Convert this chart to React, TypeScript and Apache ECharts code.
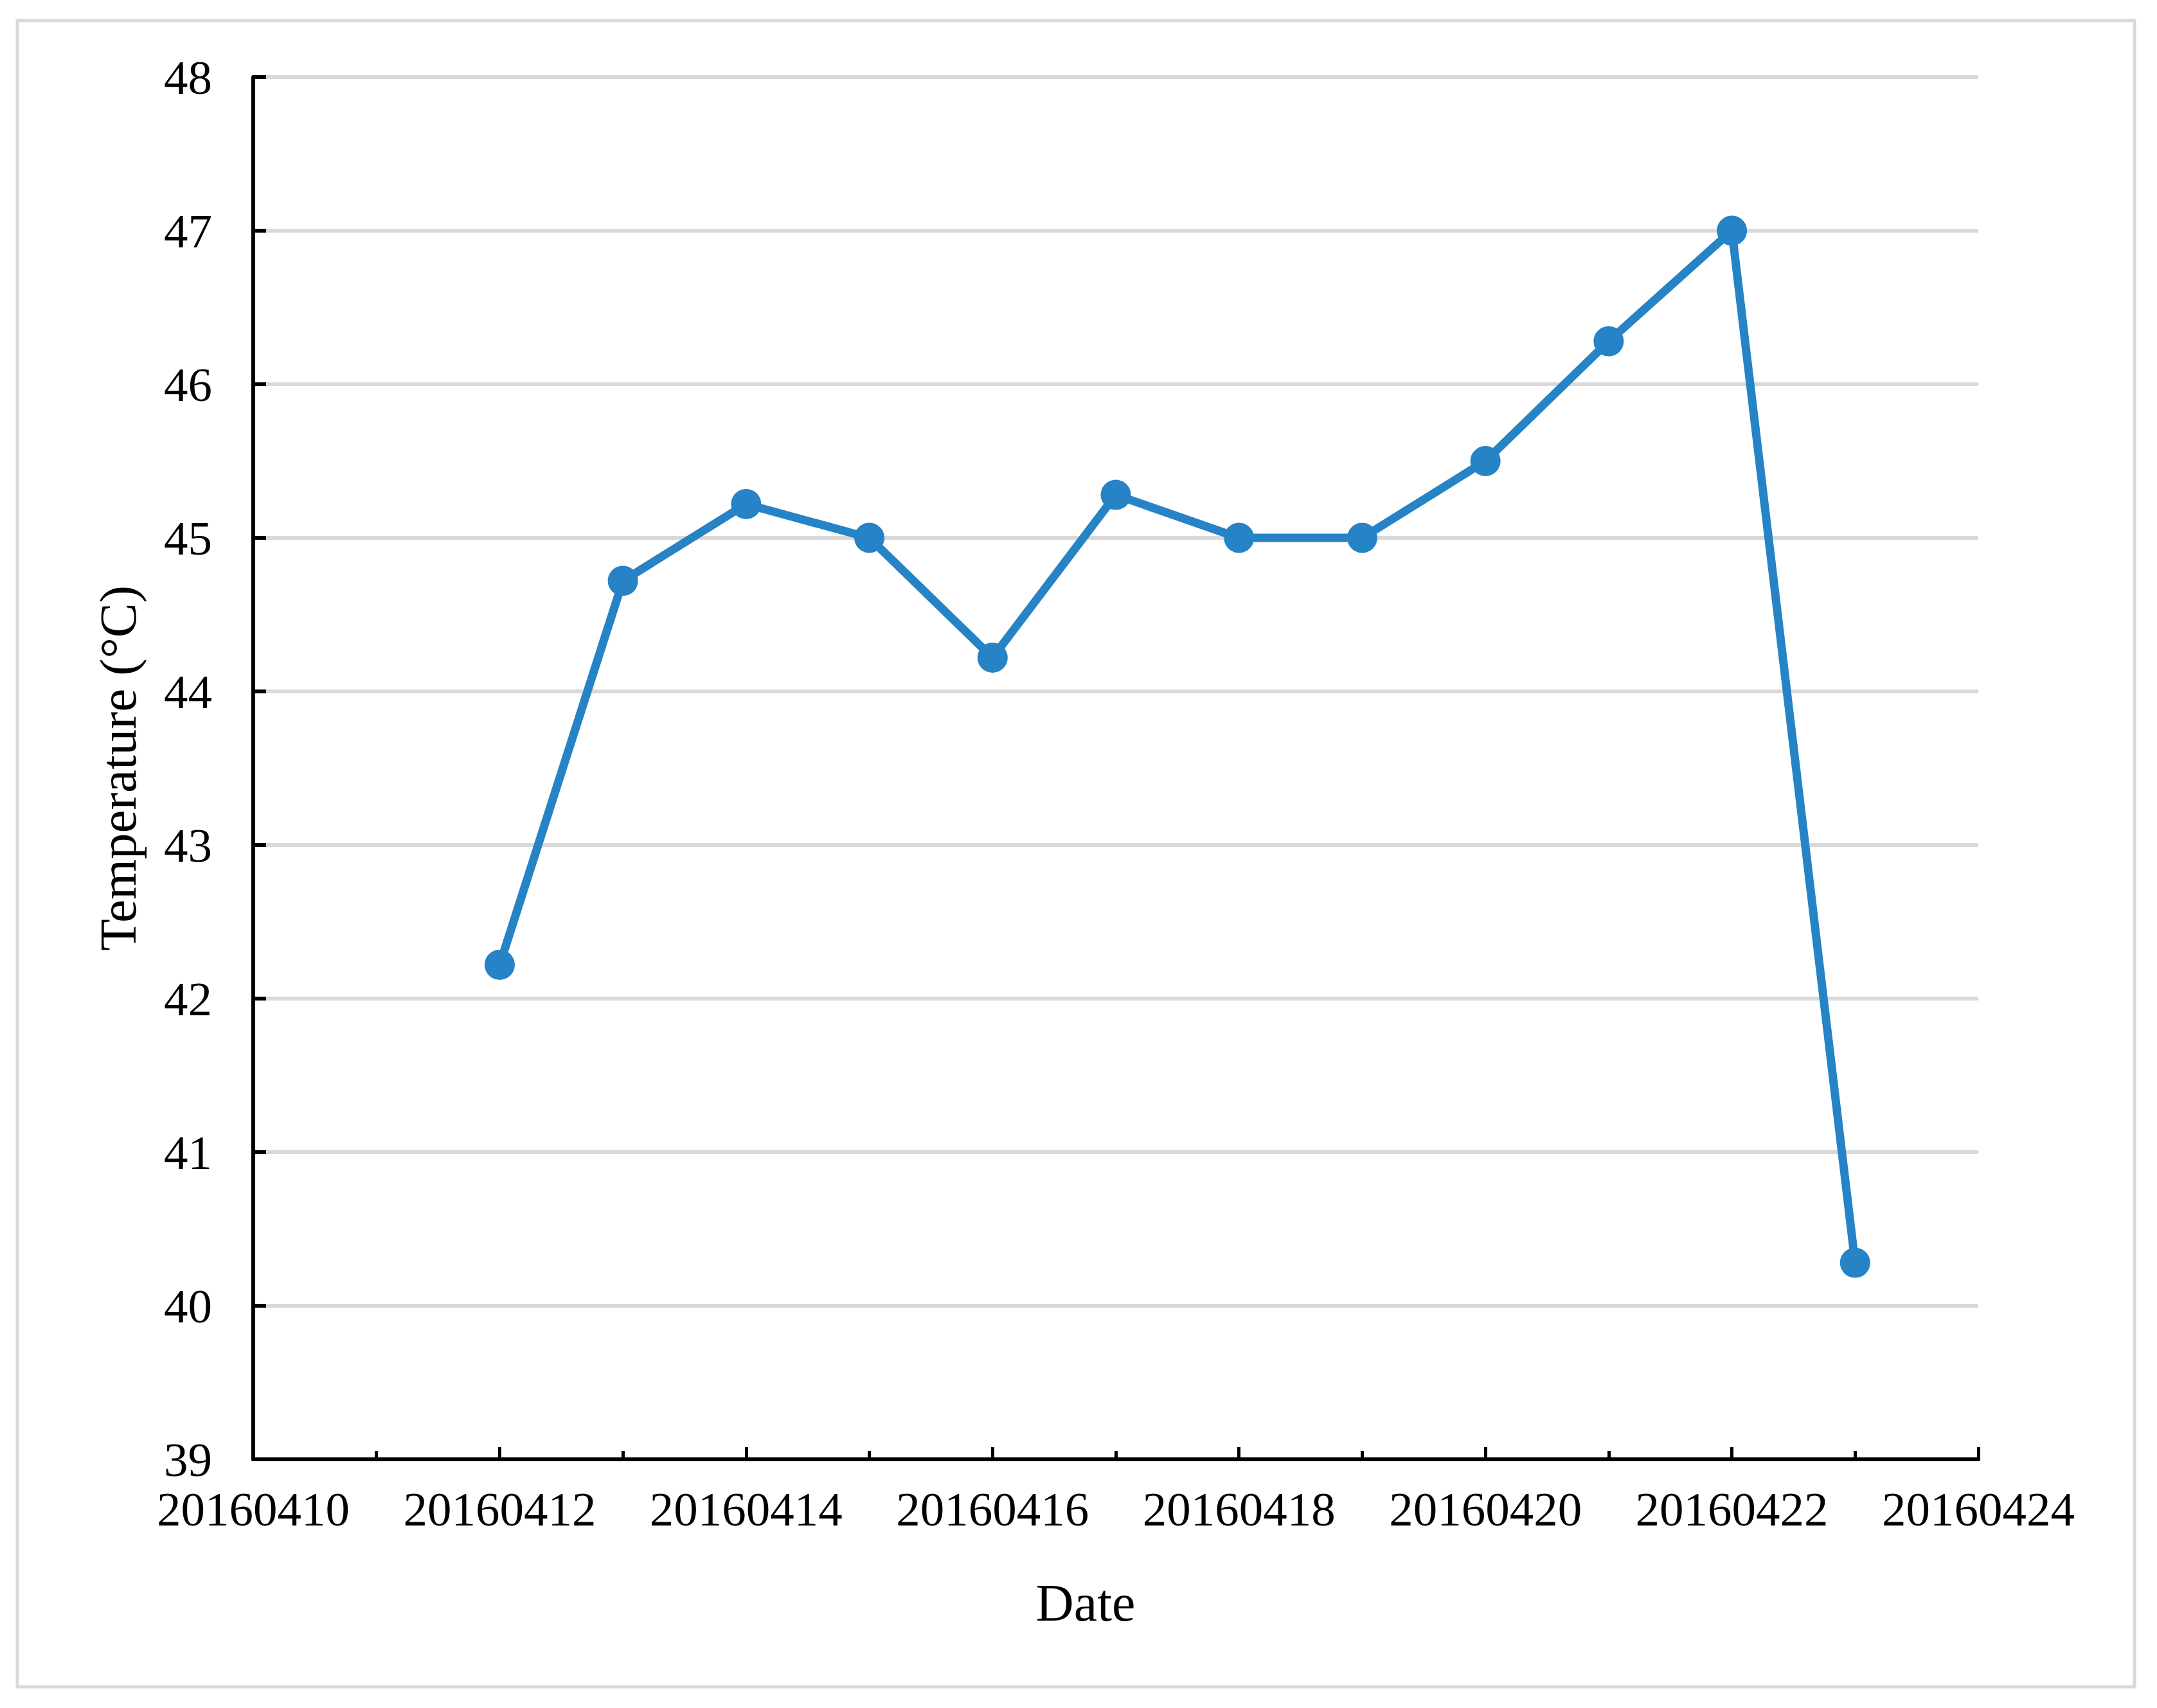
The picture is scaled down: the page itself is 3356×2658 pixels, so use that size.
import React, { useEffect, useRef } from "react";
import * as echarts from "echarts";

const dates = [20160412, 20160413, 20160414, 20160415, 20160416, 20160417, 20160418, 20160419, 20160420, 20160421, 20160422, 20160423];
const temperatures = [42.22, 44.72, 45.22, 45.0, 44.22, 45.28, 45.0, 45.0, 45.5, 46.28, 47.0, 40.28];
const xMin = 20160410;
const xMax = 20160424;
const yMin = 39;
const yMax = 48;

const FONT = '"Liberation Serif", "Times New Roman", serif';

export default function App() {
  const ref = useRef<HTMLDivElement>(null);
  useEffect(() => {
    document.body.style.margin = "0";
    const chart = echarts.init(ref.current!, undefined, { renderer: "svg" });
    const data = dates.map((d, i) => [d, temperatures[i]]);
    chart.setOption({
      animation: false,
      backgroundColor: "#ffffff",
      graphic: [
        {
          type: "rect",
          shape: { x: 27, y: 32, width: 3294, height: 2593 },
          style: { fill: "none", stroke: "#d9d9d9", lineWidth: 5 },
          z: -1,
        },
      ],
      grid: { left: 394, right: 278, top: 120, bottom: 387, containLabel: false },
      xAxis: {
        type: "value",
        min: xMin,
        max: xMax,
        interval: 2,
        name: "Date",
        nameLocation: "middle",
        nameGap: 182,
        nameTextStyle: { fontFamily: FONT, fontSize: 82, color: "#000", padding: [0, 94, 0, 0] },
        axisLine: { onZero: false, lineStyle: { color: "#000", width: 6 } },
        axisTick: { show: true, inside: true, length: 19, lineStyle: { color: "#000", width: 5 } },
        minorTick: { show: true, splitNumber: 2, length: 13, lineStyle: { color: "#000", width: 5 } },
        splitLine: { show: false },
        axisLabel: {
          fontFamily: FONT,
          fontSize: 75,
          color: "#000",
          margin: 40,
          formatter: (v: number) => String(v),
        },
      },
      yAxis: {
        type: "value",
        min: yMin,
        max: yMax,
        interval: 1,
        name: "Temperature (°C)",
        nameLocation: "middle",
        nameGap: 170,
        nameRotate: 90,
        nameTextStyle: { fontFamily: FONT, fontSize: 81, color: "#000" },
        axisLine: { show: true, lineStyle: { color: "#000", width: 6 } },
        axisTick: { show: true, inside: true, length: 20, lineStyle: { color: "#000", width: 6 } },
        splitLine: { show: true, lineStyle: { color: "#d9d9d9", width: 6 } },
        axisLabel: { fontFamily: FONT, fontSize: 75, color: "#000", margin: 64 },
      },
      series: [
        {
          type: "line",
          data,
          color: "#2683C6",
          lineStyle: { color: "#2683C6", width: 13 },
          itemStyle: { color: "#2683C6" },
          symbol: "circle",
          symbolSize: 47,
          showSymbol: true,
        },
      ],
    });
    return () => chart.dispose();
  }, []);
  return <div ref={ref} style={{ width: 3356, height: 2658 }} />;
}
